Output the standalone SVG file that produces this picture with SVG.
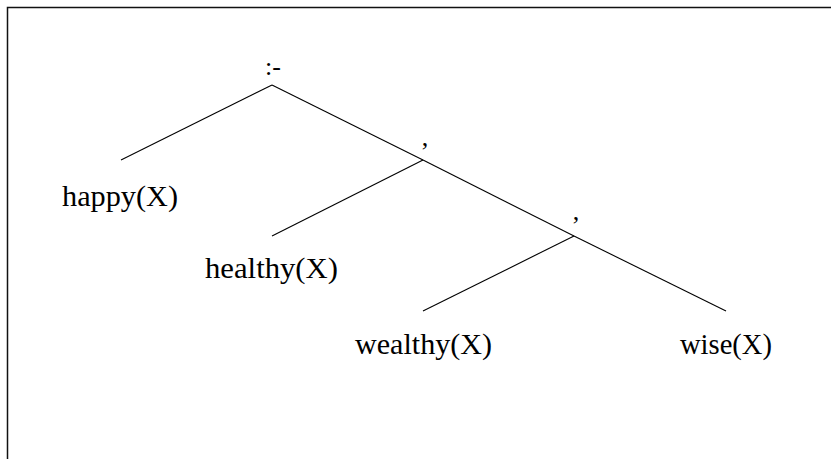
<svg xmlns="http://www.w3.org/2000/svg" width="831" height="459" viewBox="0 0 831 459">
<style>
.edge{stroke:#000;stroke-width:1.1;fill:none}
.lbl{font-family:"Liberation Serif","DejaVu Serif",serif;font-size:30px;fill:#000;text-anchor:middle}
.op{font-family:"Liberation Serif","DejaVu Serif",serif;font-size:26px;fill:#000;text-anchor:middle}
</style>
<rect x="0" y="0" width="831" height="459" fill="#fff"/>
<rect x="7.5" y="7.5" width="900" height="500" fill="none" stroke="#111" stroke-width="1.5"/>
<g id="connectors">
<line class="edge" x1="272" y1="85" x2="121" y2="160"/>
<line class="edge" x1="272" y1="85" x2="423" y2="160"/>
<line class="edge" x1="423" y1="160" x2="272" y2="236"/>
<line class="edge" x1="423" y1="160" x2="574" y2="236"/>
<line class="edge" x1="574" y1="236" x2="423" y2="311"/>
<line class="edge" x1="574" y1="236" x2="726" y2="311"/>
</g>
<g id="root"><text class="op" x="273" y="75">:-</text></g>
<g id="comma1"><text class="op" x="425" y="146">,</text></g>
<g id="comma2"><text class="op" x="576" y="220">,</text></g>
<g id="happy"><text class="lbl" x="120" y="206" textLength="116" lengthAdjust="spacingAndGlyphs">happy(X)</text></g>
<g id="healthy"><text class="lbl" x="271.5" y="278" textLength="133" lengthAdjust="spacingAndGlyphs">healthy(X)</text></g>
<g id="wealthy"><text class="lbl" x="423.5" y="354" textLength="137" lengthAdjust="spacingAndGlyphs">wealthy(X)</text></g>
<g id="wise"><text class="lbl" x="726" y="354" textLength="92" lengthAdjust="spacingAndGlyphs">wise(X)</text></g>
</svg>
